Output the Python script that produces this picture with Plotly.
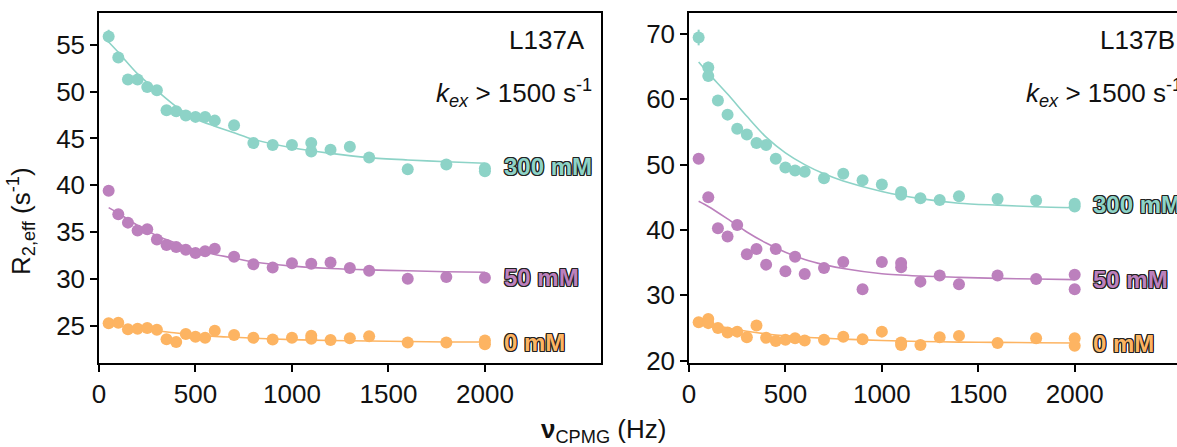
import plotly.graph_objects as go

# ---------------- data ----------------
# Left panel: L137A
L_teal_x = [50, 100, 150, 200, 250, 300, 350, 400, 450, 500, 550, 600, 700, 800, 900, 1000, 1100, 1100, 1200, 1300, 1400, 1600, 1800, 2000, 2000]
L_teal_y = [55.9, 53.65, 51.3, 51.3, 50.5, 50.15, 48.0, 47.9, 47.45, 47.3, 47.3, 46.9, 46.4, 44.5, 44.3, 44.3, 44.5, 43.6, 43.8, 44.1, 42.95, 41.7, 42.2, 41.5, 41.8]
L_teal_err = [0.7, 0.6, 0.5, 0.5, 0.5, 0.5, 0.4, 0.4, 0.4, 0.4, 0.4, 0.4, 0.4, 0.4, 0.4, 0.4, 0.4, 0.4, 0.4, 0.4, 0.4, 0.4, 0.4, 0.4, 0.4]

L_purple_x = [50, 100, 150, 200, 250, 300, 350, 400, 450, 500, 550, 600, 700, 800, 900, 1000, 1100, 1200, 1300, 1400, 1600, 1800, 2000]
L_purple_y = [39.4, 36.9, 36.0, 35.15, 35.3, 34.2, 33.6, 33.4, 33.1, 32.75, 32.95, 33.2, 32.35, 31.55, 31.2, 31.65, 31.6, 31.75, 31.15, 30.85, 30.0, 30.2, 30.1]

L_orange_x = [50, 100, 150, 200, 250, 300, 350, 400, 450, 500, 550, 600, 700, 800, 900, 1000, 1100, 1100, 1200, 1300, 1400, 1600, 1800, 2000, 2000]
L_orange_y = [25.25, 25.3, 24.6, 24.65, 24.75, 24.55, 23.55, 23.25, 24.1, 23.8, 23.7, 24.45, 24.0, 23.7, 23.5, 23.7, 23.9, 23.6, 23.45, 23.65, 23.85, 23.2, 23.2, 23.0, 23.4]

fit_x = [50, 100, 200, 300, 400, 500, 600, 700, 800, 1000, 1200, 1400, 1600, 1800, 2000]
L_teal_fit = [55.3, 54.2, 51.9, 50.1, 48.4, 47.1, 46.3, 45.6, 44.9, 44.0, 43.4, 42.95, 42.7, 42.5, 42.35]
L_purple_fit = [37.6, 37.0, 35.7, 34.6, 33.8, 33.1, 32.6, 32.2, 31.8, 31.35, 31.1, 30.95, 30.85, 30.75, 30.7]
L_orange_fit = [25.1, 24.95, 24.7, 24.45, 24.2, 24.0, 23.85, 23.75, 23.65, 23.5, 23.4, 23.35, 23.3, 23.25, 23.25]

# Right panel: L137B
R_teal_x = [50, 100, 100, 150, 200, 250, 300, 350, 400, 450, 500, 550, 600, 700, 800, 900, 1000, 1100, 1100, 1200, 1300, 1400, 1600, 1800, 2000, 2000]
R_teal_y = [69.45, 64.85, 63.55, 59.8, 57.65, 55.5, 54.6, 53.3, 53.0, 50.9, 49.55, 49.1, 48.9, 47.9, 48.6, 47.6, 46.95, 45.8, 45.4, 44.85, 44.6, 45.15, 44.75, 44.5, 43.6, 44.0]
R_teal_err = [1.2, 0.9, 0.8, 0.8, 0.7, 0.6, 0.6, 0.6, 0.6, 0.5, 0.5, 0.5, 0.5, 0.5, 0.5, 0.5, 0.5, 0.5, 0.5, 0.5, 0.5, 0.5, 0.5, 0.5, 0.5, 0.5]

R_purple_x = [50, 100, 150, 200, 250, 300, 350, 400, 450, 500, 550, 600, 700, 800, 900, 1000, 1100, 1100, 1200, 1300, 1400, 1600, 1800, 2000, 2000]
R_purple_y = [50.9, 45.0, 40.25, 39.0, 40.75, 36.3, 37.1, 34.7, 37.1, 33.7, 35.9, 33.25, 34.2, 35.1, 30.95, 35.1, 34.95, 34.3, 32.1, 33.05, 31.7, 33.05, 32.5, 33.15, 30.95]

R_orange_x = [50, 100, 100, 150, 200, 250, 300, 350, 400, 450, 500, 550, 600, 700, 800, 900, 1000, 1100, 1100, 1200, 1300, 1400, 1600, 1800, 2000, 2000]
R_orange_y = [25.9, 26.4, 25.75, 25.0, 24.3, 24.45, 23.6, 25.4, 23.5, 23.0, 23.2, 23.45, 23.1, 23.2, 23.65, 23.3, 24.45, 22.8, 22.4, 22.4, 23.6, 23.8, 22.7, 23.45, 23.45, 22.3]

R_teal_fit = [65.7, 64.0, 60.8, 57.4, 54.2, 51.8, 50.0, 48.6, 47.5, 45.9, 44.8, 44.1, 43.8, 43.55, 43.4]
R_purple_fit = [44.4, 43.6, 41.7, 39.7, 38.0, 36.6, 35.5, 34.7, 34.1, 33.3, 32.95, 32.75, 32.6, 32.5, 32.4]
R_orange_fit = [26.0, 25.7, 25.0, 24.5, 24.1, 23.8, 23.6, 23.45, 23.3, 23.1, 22.95, 22.85, 22.8, 22.75, 22.7]

series_labels = ["300 mM", "50 mM", "0 mM"]
L_label_y = [42.0, 30.1, 23.2]
R_label_y = [43.9, 32.4, 22.7]
panel_names = ["L137A", "L137B"]

x_ticks = [0, 500, 1000, 1500, 2000]
L_y_ticks = [25, 30, 35, 40, 45, 50, 55]
R_y_ticks = [20, 30, 40, 50, 60, 70]

# ---------------- styling ----------------
TEAL = "#8dd3c7"
PURPLE = "#bc80bd"
ORANGE = "#fdb462"
colors = [TEAL, PURPLE, ORANGE]
FONT = "Liberation Sans, Arial, Helvetica, sans-serif"

W, H = 1177, 447
ML, MR, MT, MB = 99, 0, 13, 84
PW = W - ML - MR
PH = H - MT - MB

fig = go.Figure()


def add_panel(xa, ya, pts, fits, errs):
    for (px, py), fy, col, err in zip(pts, fits, colors, errs):
        fig.add_trace(go.Scatter(
            x=fit_x, y=fy, mode="lines", xaxis=xa, yaxis=ya,
            line=dict(color=col, width=1.6, shape="spline", smoothing=0.8),
            showlegend=False, hoverinfo="skip"))
        fig.add_trace(go.Scatter(
            x=px, y=py, mode="markers", xaxis=xa, yaxis=ya,
            marker=dict(color=col, size=12, line=dict(width=0)),
            error_y=dict(type="data", array=err, visible=err is not None,
                         color=col, thickness=2, width=0),
            showlegend=False))


add_panel("x", "y",
          [(L_teal_x, L_teal_y), (L_purple_x, L_purple_y), (L_orange_x, L_orange_y)],
          [L_teal_fit, L_purple_fit, L_orange_fit],
          [L_teal_err, None, None])
add_panel("x2", "y2",
          [(R_teal_x, R_teal_y), (R_purple_x, R_purple_y), (R_orange_x, R_orange_y)],
          [R_teal_fit, R_purple_fit, R_orange_fit],
          [R_teal_err, None, None])

# panel geometry (pixels)
L_x0, L_x1 = 99.3, 600.7
R_x0 = 689.0
px_per_hz = (L_x1 - L_x0) / 2600.0
R_xmax = (W - R_x0) / px_per_hz

axis_common = dict(
    showline=True, linecolor="black", linewidth=1.5,
    ticks="outside", ticklen=7, tickwidth=1.5, tickcolor="black",
    showgrid=False, zeroline=False,
    tickfont=dict(family=FONT, size=26, color="#111"),
)

fig.update_layout(
    width=W, height=H,
    margin=dict(l=ML, r=MR, t=MT, b=MB),
    plot_bgcolor="white", paper_bgcolor="white",
    xaxis=dict(domain=[0, (L_x1 - ML) / PW], range=[0, 2600], tickvals=x_ticks,
               mirror=True, anchor="y", **axis_common),
    yaxis=dict(domain=[0, 1], range=[21.0, 58.4], tickvals=L_y_ticks,
               mirror=True, anchor="x", **axis_common),
    xaxis2=dict(domain=[(R_x0 - ML) / PW, 1], range=[0, R_xmax], tickvals=x_ticks,
                mirror=True, anchor="y2", **axis_common),
    yaxis2=dict(domain=[0, 1], range=[19.65, 73.2], tickvals=R_y_ticks,
                mirror=False, anchor="x2", **axis_common),
)

outline = ("-1px -1px 0 #222, 1px -1px 0 #222, -1px 1px 0 #222, 1px 1px 0 #222, "
           "0 1px 0 #222, 0 -1px 0 #222, 1px 0 0 #222, -1px 0 0 #222")

annotations = []
for xa, ys in (("x", L_label_y), ("x2", R_label_y)):
    for lab, yv, col in zip(series_labels, ys, colors):
        annotations.append(dict(
            x=2087, y=yv, xref=xa, yref="y" if xa == "x" else "y2",
            text=f"<b>{lab}</b>", showarrow=False, xanchor="left", yanchor="middle",
            font=dict(family=FONT, size=24, color=col, shadow=outline)))


def paper_x(px):
    return (px - ML) / PW


def paper_y(py):
    return (H - MB - py) / PH


shift = R_x0 - L_x0
for i, name in enumerate(panel_names):
    annotations.append(dict(
        x=paper_x(587 + i * shift), y=paper_y(40), xref="paper", yref="paper",
        text=name, showarrow=False, xanchor="right", yanchor="middle",
        font=dict(family=FONT, size=26, color="#111")))
    annotations.append(dict(
        x=paper_x(594 + i * shift), y=paper_y(93), xref="paper", yref="paper",
        text="<i>k</i><sub><i>ex</i></sub> &gt; 1500 s<sup>-1</sup>",
        showarrow=False, xanchor="right", yanchor="middle",
        font=dict(family=FONT, size=26, color="#111")))

annotations.append(dict(
    x=paper_x(21), y=paper_y(221), xref="paper", yref="paper",
    text="R<sub>2,eff</sub> (s<sup>-1</sup>)", textangle=-90, showarrow=False,
    xanchor="center", yanchor="middle",
    font=dict(family=FONT, size=26, color="#111")))
annotations.append(dict(
    x=paper_x(603), y=paper_y(430), xref="paper", yref="paper",
    text="<b>ν</b><sub>CPMG</sub> (Hz)", showarrow=False,
    xanchor="center", yanchor="middle",
    font=dict(family=FONT, size=26, color="#111")))

fig.update_layout(annotations=annotations)

fig.write_html("out.html", config={"displayModeBar": False},
               post_script="document.body.style.margin='0';")
